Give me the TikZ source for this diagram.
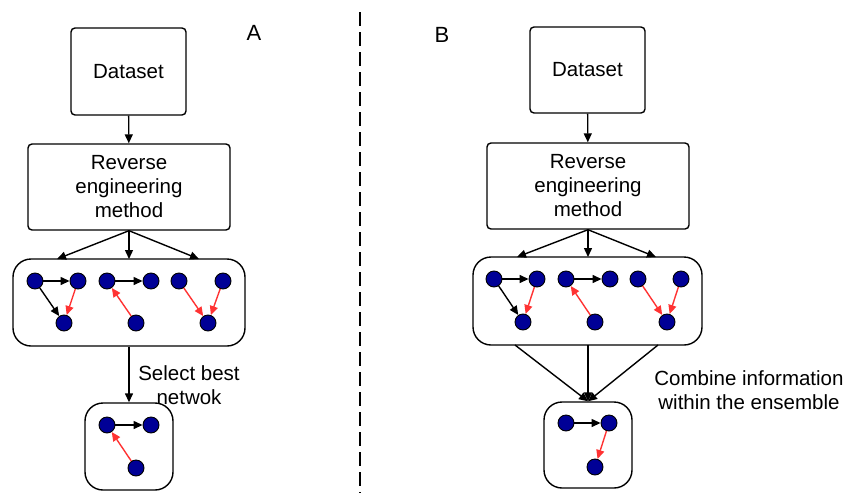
\documentclass[tikz,border=0pt]{standalone}
\usepackage{fontspec}
\setmainfont{Liberation Sans}
\usetikzlibrary{arrows.meta}
\definecolor{netblue}{RGB}{0,0,150}
\definecolor{netred}{RGB}{255,51,51}

\begin{document}
\begin{tikzpicture}[x=1pt,y=-1pt,
  box/.style={draw, line width=1.4pt, rounded corners=4pt, align=center, inner sep=0pt,
    font=\fontsize{20.5}{24}\selectfont},
  ens/.style={draw, line width=1.4pt, rounded corners=18pt, inner sep=0pt},
  gn/.style={circle, draw, fill=netblue, minimum size=16pt, inner sep=0pt, line width=0.9pt},
  flow/.style={line width=1.4pt, -{Triangle[length=9pt,width=8pt]}},
  blkedge/.style={line width=1.4pt, -{Triangle[length=9pt,width=8pt]}},
  rededge/.style={line width=1.4pt, netred, -{Triangle[length=9pt,width=8pt]}},
  caption/.style={align=center, inner sep=0pt, font=\fontsize{20.5}{24}\selectfont},
  panel/.style={inner sep=0pt, font=\fontsize{22}{24}\selectfont}
]
\useasboundingbox (0,0) rectangle (846,493);

% divider between the two panels
\draw[line width=1.3pt, dash pattern=on 14pt off 6pt] (360,12) -- (360,493);

\node[panel] (labA) at (254,33) {A};
\node[panel] (labB) at (442,35) {B};

% ---------------- Panel A ----------------
\node[box, minimum width=115pt, minimum height=87pt] (dsA) at (128.5,71.5) {Dataset};
\node[box, minimum width=202pt, minimum height=86pt] (revA) at (129,187) {Reverse\\engineering\\method};
\node[ens, minimum width=232pt, minimum height=87pt] (ensA) at (129,302.5) {};
\node[ens, minimum width=88pt, minimum height=87pt] (smA) at (129,446.5) {};

\draw[flow] (dsA) -- (revA);
\coordinate (tA1) at (57,259);
\coordinate (tA2) at (129,259);
\coordinate (tA3) at (199,259);
\draw[flow] (revA.south) -- (tA1);
\draw[flow] (revA.south) -- (tA2);
\draw[flow] (revA.south) -- (tA3);
\draw[flow] (ensA.south) -- (smA.north);
\node[caption] (selA) at (189,385.5) {Select best\\netwok};

% ensemble of networks, panel A
\node[gn] (a1) at (35,281) {};
\node[gn] (a2) at (78,281) {};
\node[gn] (a3) at (64,323) {};
\node[gn] (a4) at (107,281) {};
\node[gn] (a5) at (151,281) {};
\node[gn] (a6) at (136,323) {};
\node[gn] (a7) at (179,281) {};
\node[gn] (a8) at (223,281) {};
\node[gn] (a9) at (208,323) {};
\draw[blkedge] (a1) -- (a2);
\draw[blkedge] (a1) -- (a3);
\draw[rededge] (a2) -- (a3);
\draw[blkedge] (a4) -- (a5);
\draw[rededge] (a6) -- (a4);
\draw[rededge] (a7) -- (a9);
\draw[rededge] (a8) -- (a9);

% selected network
\node[gn] (s1) at (107,425) {};
\node[gn] (s2) at (151,425) {};
\node[gn] (s3) at (136,468) {};
\draw[blkedge] (s1) -- (s2);
\draw[rededge] (s3) -- (s1);

% ---------------- Panel B ----------------
\node[box, minimum width=115pt, minimum height=86pt] (dsB) at (587.5,70) {Dataset};
\node[box, minimum width=202pt, minimum height=86pt] (revB) at (588,186) {Reverse\\engineering\\method};
\node[ens, minimum width=229pt, minimum height=88pt] (ensB) at (587.5,301) {};
\node[ens, minimum width=88pt, minimum height=86pt] (smB) at (588,445) {};

\draw[flow] (dsB) -- (revB);
\coordinate (tB1) at (517,257);
\coordinate (tB2) at (588,257);
\coordinate (tB3) at (656,257);
\draw[flow] (revB.south) -- (tB1);
\draw[flow] (revB.south) -- (tB2);
\draw[flow] (revB.south) -- (tB3);
\coordinate (bB1) at (515,345);
\coordinate (bB2) at (588,345);
\coordinate (bB3) at (658,345);
\draw[flow] (bB1) -- (smB.north);
\draw[flow] (bB2) -- (smB.north);
\draw[flow] (bB3) -- (smB.north);
\node[caption] (comB) at (749,390) {Combine information\\within the ensemble};

% ensemble of networks, panel B
\node[gn] (b1) at (494,279) {};
\node[gn] (b2) at (537,279) {};
\node[gn] (b3) at (523,322) {};
\node[gn] (b4) at (566,279) {};
\node[gn] (b5) at (610,279) {};
\node[gn] (b6) at (595,322) {};
\node[gn] (b7) at (638,279) {};
\node[gn] (b8) at (681,279) {};
\node[gn] (b9) at (667,322) {};
\draw[blkedge] (b1) -- (b2);
\draw[blkedge] (b1) -- (b3);
\draw[rededge] (b2) -- (b3);
\draw[blkedge] (b4) -- (b5);
\draw[rededge] (b6) -- (b4);
\draw[rededge] (b7) -- (b9);
\draw[rededge] (b8) -- (b9);

% combined network
\node[gn] (c1) at (566,423) {};
\node[gn] (c2) at (609,423) {};
\node[gn] (c3) at (595,467) {};
\draw[blkedge] (c1) -- (c2);
\draw[rededge] (c2) -- (c3);
\end{tikzpicture}
\end{document}
